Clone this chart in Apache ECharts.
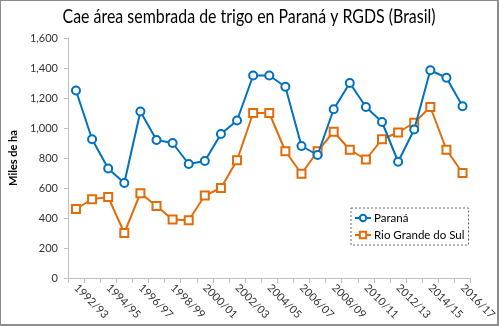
<!DOCTYPE html>
<html>
<head>
<meta charset="utf-8">
<script src="https://cdn.jsdelivr.net/npm/echarts@6/dist/echarts.min.js"></script>
<style>
html,body{margin:0;padding:0;background:#fff;}
#frame{position:absolute;left:0;top:0;width:499px;height:326px;box-sizing:border-box;border:1px solid #8c8c8c;border-right-width:2px;border-bottom-width:2px;}
#chart{position:absolute;left:0;top:0;width:499px;height:326px;}
</style>
</head>
<body>
<div id="chart"></div>
<div id="frame"></div>
<script>
const categories = ["1992/93","1993/94","1994/95","1995/96","1996/97","1997/98","1998/99","1999/00","2000/01","2001/02","2002/03","2003/04","2004/05","2005/06","2006/07","2007/08","2008/09","2009/10","2010/11","2011/12","2012/13","2013/14","2014/15","2015/16","2016/17"];
const parana = [1250,925,730,633,1110,920,900,760,780,960,1050,1350,1350,1275,880,820,1125,1300,1140,1040,775,990,1385,1335,1145];
const rioGrandeDoSul = [460,525,540,300,565,480,390,385,550,600,785,1100,1100,845,695,845,975,855,790,925,970,1035,1140,855,700];
const yTicks = [0,200,400,600,800,1000,1200,1400,1600];
const titleText = 'Cae área sembrada de trigo en Paraná y RGDS (Brasil)';

const baseFont = 'Lato';
const titleFont = '19px Lato';
const cv = document.createElement('canvas').getContext('2d');
cv.font = titleFont;
const titleW = cv.measureText(titleText).width || 373;
const sx = Math.min(1, 373 / titleW);

const chart = echarts.init(document.getElementById('chart'), null, {renderer:'canvas'});
chart.setOption({
  animation:false,
  backgroundColor:'#ffffff',
  graphic:[{
    type:'text',
    x:249, y:17,
    scaleX:sx, scaleY:1,
    style:{text:titleText, font:titleFont, fill:'#000', align:'center', verticalAlign:'middle'}
  }],
  legend:{
    orient:'vertical',
    left:351, top:208,
    width:113, height:38,
    padding:[4,4,4,3],
    itemGap:5,
    itemWidth:16, itemHeight:8,
    borderColor:'#666', borderWidth:1, borderType:[2,2],
    textStyle:{fontFamily:baseFont, fontSize:11.5, color:'#000', padding:[0,0,0,-2]},
    data:['Paraná','Rio Grande do Sul']
  },
  grid:{left:63, right:26, top:38, bottom:48, containLabel:false},
  xAxis:{
    type:'category',
    data:categories,
    boundaryGap:true,
    axisLine:{show:true, lineStyle:{color:'#bfbfbf', width:1}},
    axisTick:{show:true, interval:0, length:5, lineStyle:{color:'#bfbfbf'}},
    axisLabel:{interval:1, rotate:-45, margin:8, fontFamily:baseFont, fontSize:11, color:'#333'},
    splitLine:{show:false}
  },
  yAxis:{
    type:'value',
    min:yTicks[0], max:yTicks[yTicks.length-1], interval:yTicks[1]-yTicks[0],
    name:'Miles de ha',
    nameLocation:'middle', nameGap:42, nameRotate:90,
    nameTextStyle:{fontFamily:baseFont, fontSize:11, fontWeight:'bold', color:'#000'},
    axisLine:{show:true, lineStyle:{color:'#bfbfbf', width:1}},
    axisTick:{show:true, length:4, lineStyle:{color:'#bfbfbf'}},
    axisLabel:{margin:10, fontFamily:baseFont, fontSize:11, color:'#333',
      formatter:function(v){return v.toLocaleString('en-US');}},
    splitLine:{show:false}
  },
  series:[
    {
      name:'Paraná', type:'line', data:parana,
      symbol:'emptyCircle', symbolSize:8,
      lineStyle:{color:'#0070c0', width:2},
      itemStyle:{color:'#0070c0', borderColor:'#0070c0', borderWidth:1.5},
      z:3
    },
    {
      name:'Rio Grande do Sul', type:'line', data:rioGrandeDoSul,
      symbol:'emptyRect', symbolSize:8,
      lineStyle:{color:'#e36c09', width:2},
      itemStyle:{color:'#e36c09', borderColor:'#e36c09', borderWidth:1.5},
      z:2
    }
  ]
});
</script>
</body>
</html>
